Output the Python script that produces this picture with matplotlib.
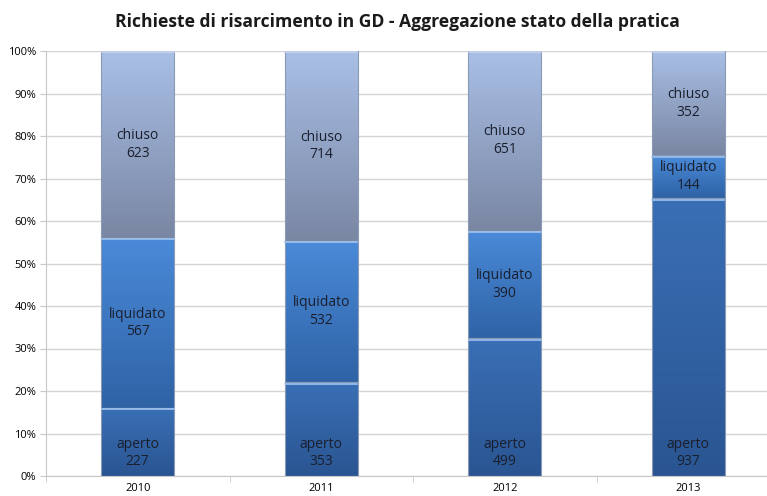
import numpy as np
import matplotlib.pyplot as plt
from matplotlib.colors import LinearSegmentedColormap
from matplotlib.ticker import PercentFormatter

# values
years = ['2010', '2011', '2012', '2013']
aperto = [227, 353, 499, 937]
liquidato = [567, 532, 390, 144]
chiuso = [623, 714, 651, 352]

series = [('aperto', aperto), ('liquidato', liquidato), ('chiuso', chiuso)]
# gradient (bottom colour, top colour) per series
grads = {
    'aperto': ('#2a5592', '#3a6fb5'),
    'liquidato': ('#2f63a6', '#4a8ad8'),
    'chiuso': ('#7a87a3', '#a9bfe6'),
}

plt.rcParams['font.family'] = ['Open Sans', 'DejaVu Sans']

fig = plt.figure(figsize=(7.67, 4.96), dpi=100)
ax = fig.add_axes([46 / 767, 20 / 496, 734 / 767, 425 / 496])

x = np.arange(len(years))
totals = np.array(aperto) + np.array(liquidato) + np.array(chiuso)
width = 0.4
bottom = np.zeros(len(years))

for name, vals in series:
    frac = np.array(vals) / totals * 100
    c0, c1 = grads[name]
    cmap = LinearSegmentedColormap.from_list(name, [c0, c1])
    bars = ax.bar(x, frac, width, bottom=bottom, color='none',
                  edgecolor='#8a9ab5', linewidth=0.8, zorder=3)
    for i, b in enumerate(bars):
        x0, y0 = b.get_x(), b.get_y()
        w, h = b.get_width(), b.get_height()
        grad = np.linspace(0, 1, 64).reshape(-1, 1)
        im = ax.imshow(grad, cmap=cmap, origin='lower', aspect='auto',
                       extent=(x0, x0 + w, y0, y0 + h), zorder=2)
        im.set_clip_path(b)
        # light highlight line at the top of each segment
        ax.plot([x0 + 0.005, x0 + w - 0.005], [y0 + h - 0.35] * 2,
                color='#9ec3f0' if name != 'chiuso' else '#c8d6f0',
                lw=1.2, zorder=4)
        if name == 'aperto':
            ty = y0 + 5.4
        else:
            ty = y0 + h / 2
        ax.text(x[i], ty, f'{name}\n{vals[i]}', ha='center', va='center',
                fontsize=10, color='#1a1f2e', linespacing=1.25, zorder=5)
    bottom += frac

ax.set_xlim(-0.5, len(years) - 0.5)
ax.set_ylim(0, 100)
ax.yaxis.set_major_locator(plt.MultipleLocator(10))
ax.yaxis.set_major_formatter(PercentFormatter(decimals=0))
ax.set_xticks(x)
ax.set_xticklabels(years)
ax.set_xticks(np.arange(len(years) + 1) - 0.5, minor=True)
ax.tick_params(axis='x', which='major', length=0, labelsize=8, pad=5)
ax.tick_params(axis='x', which='minor', length=4, color='#c8c8c8')
ax.tick_params(axis='y', labelsize=8, length=4, color='#c8c8c8', pad=3)
ax.grid(axis='y', color='#d4d4d4', linewidth=1, zorder=0)
ax.set_axisbelow(True)
for s in ['top', 'right']:
    ax.spines[s].set_visible(False)
for s in ['left', 'bottom']:
    ax.spines[s].set_color('#c8c8c8')

fig.text(397 / 767, 1 - 22 / 496, 'Richieste di risarcimento in GD - Aggregazione stato della pratica',
         ha='center', va='center', fontsize=12.6, fontweight='bold', color='#1a1a1a')

fig.savefig('out.png', dpi=100)
